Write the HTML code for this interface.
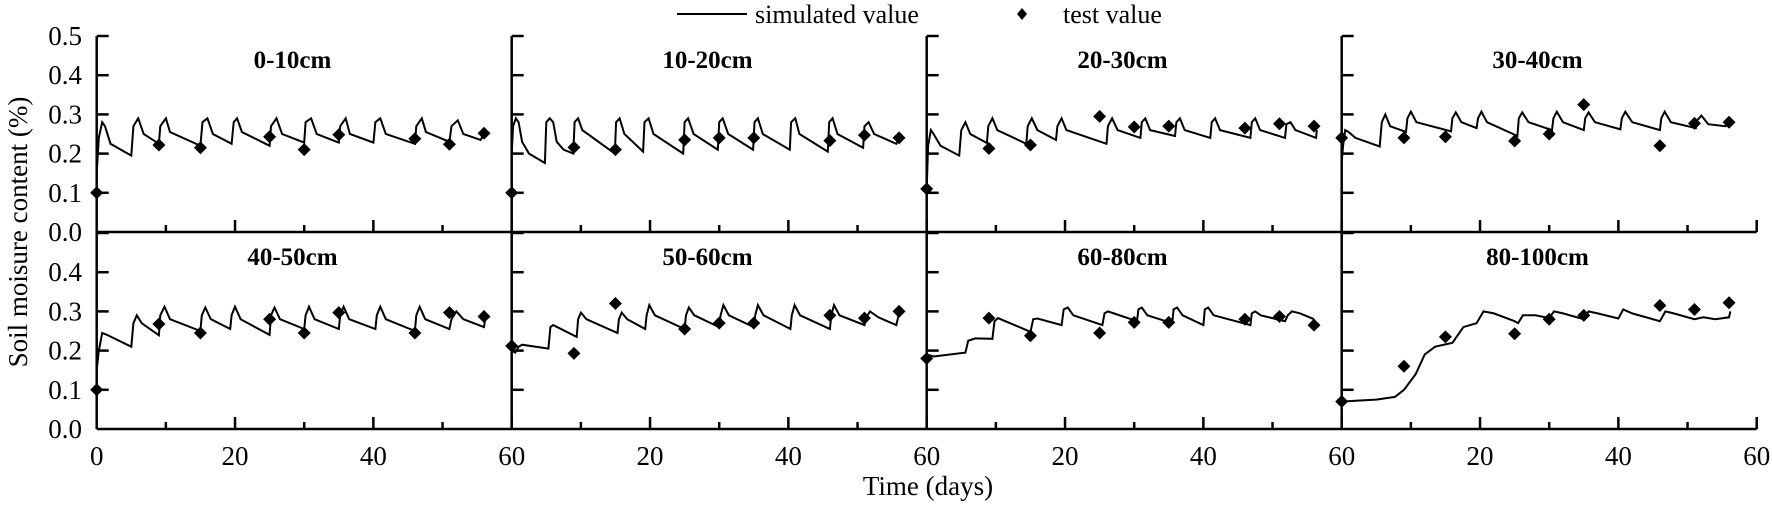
<!DOCTYPE html>
<html><head><meta charset="utf-8"><style>
html,body{margin:0;padding:0;background:#fff;}
svg{display:block;}
svg text{font-family:"Liberation Serif","Times New Roman",serif;}
</style></head><body>
<svg id="chart" width="1772" height="506" viewBox="0 0 1772 506" xmlns="http://www.w3.org/2000/svg" font-family="Liberation Serif, serif">
<g>
<line x1="677" y1="14" x2="747" y2="14" stroke="#000" stroke-width="2"/>
<text x="755" y="23" font-size="26" font-family="Liberation Serif, serif">simulated value</text>
<path d="M1022 8 L1027 14 L1022 20 L1017 14Z" fill="#000"/>
<text x="1063" y="23" font-size="26" font-family="Liberation Serif, serif">test value</text>
</g>
<text transform="translate(27,232) rotate(-90)" text-anchor="middle" font-size="27" font-family="Liberation Serif, serif">Soil moisure content (%)</text>
<text x="928" y="495" text-anchor="middle" font-size="27" font-family="Liberation Serif, serif">Time (days)</text>
</svg>
<script>
const panelLabels = ["0-10cm","10-20cm","20-30cm","30-40cm","40-50cm","50-60cm","60-80cm","80-100cm"];
const testDays = [0,9,15,25,30,35,46,51,56];
const test1 = [0.10,0.222,0.215,0.243,0.21,0.248,0.238,0.224,0.252];
const test2 = [0.10,0.216,0.21,0.235,0.24,0.24,0.233,0.247,0.24];
const test3 = [0.11,0.213,0.222,0.295,0.268,0.27,0.265,0.276,0.27];
const test4 = [0.24,0.24,0.243,0.232,0.25,0.325,0.22,0.277,0.28];
const test5 = [0.10,0.268,0.245,0.28,0.245,0.297,0.245,0.297,0.287];
const test6 = [0.212,0.193,0.32,0.255,0.27,0.27,0.29,0.283,0.30];
const test7 = [0.18,0.283,0.238,0.245,0.272,0.272,0.28,0.287,0.265];
const test8 = [0.07,0.16,0.235,0.243,0.28,0.29,0.315,0.305,0.322];
// simulated series: flat [day, value, day, value, ...]
const sim1 = [0,0.15,0.3,0.24,0.8,0.28,1.2,0.27,2,0.225,5,0.195,5.3,0.27,6,0.29,6.8,0.25,9,0.225,9.2,0.27,10,0.29,10.6,0.255,15,0.22,15.3,0.28,16,0.29,16.8,0.25,19.5,0.225,19.8,0.28,20.3,0.29,21,0.255,25,0.22,25.2,0.27,26,0.29,26.8,0.25,30,0.228,30.2,0.28,31,0.29,31.8,0.25,35,0.228,35.2,0.27,36,0.29,36.6,0.25,40,0.228,40.3,0.28,41,0.29,41.8,0.25,46,0.225,46.2,0.27,47,0.29,47.6,0.255,51,0.23,51.3,0.27,52.2,0.285,53,0.25,55.5,0.235,56,0.25];
const sim2 = [0,0.2,0.2,0.27,0.6,0.29,1,0.28,1.5,0.23,2.5,0.2,4.8,0.176,5,0.28,5.5,0.29,6,0.28,6.5,0.23,7.5,0.21,8.9,0.2,9.1,0.28,9.6,0.29,10.2,0.26,14.9,0.2,15.1,0.28,15.6,0.29,16.3,0.25,19,0.205,19.2,0.28,19.8,0.29,20.5,0.25,24.8,0.2,25,0.28,25.5,0.29,26.3,0.25,29.8,0.21,30,0.28,30.5,0.29,31.3,0.25,34.9,0.21,35.1,0.28,35.6,0.29,36.3,0.25,40.2,0.21,40.4,0.28,41,0.29,41.6,0.25,45.7,0.205,45.9,0.28,46.4,0.29,47.1,0.25,50.8,0.215,51,0.27,51.6,0.28,52.4,0.25,55.6,0.225,56,0.24];
const sim3 = [0,0.11,0.2,0.22,0.6,0.26,1,0.25,2,0.22,4.7,0.195,5,0.26,5.6,0.28,6.3,0.25,8.7,0.227,8.9,0.27,9.5,0.29,10.2,0.26,14.4,0.225,14.6,0.27,15.2,0.29,16,0.26,18.7,0.235,18.9,0.27,19.5,0.29,20.2,0.26,26,0.225,26.2,0.27,26.8,0.29,27.6,0.26,30.9,0.24,31.1,0.28,31.6,0.29,32.3,0.26,35.9,0.245,36.1,0.28,36.6,0.29,37.3,0.26,41,0.24,41.2,0.28,41.7,0.29,42.4,0.26,46.8,0.24,47,0.28,47.5,0.29,48.2,0.26,51.8,0.24,52,0.275,52.6,0.28,53.3,0.26,56.3,0.24,56.4,0.26];
const sim4 = [0,0.18,0.2,0.22,0.5,0.26,1,0.255,2,0.24,5.5,0.218,5.8,0.28,6.3,0.30,7,0.27,9.3,0.255,9.5,0.29,10,0.307,10.8,0.28,15.8,0.257,16,0.29,16.5,0.305,17.3,0.28,19.5,0.265,19.7,0.29,20.2,0.307,21,0.28,25.4,0.245,25.6,0.29,26.1,0.305,27,0.28,30.4,0.26,30.6,0.29,31.1,0.307,32,0.28,35,0.26,35.2,0.29,35.7,0.305,36.6,0.28,40.3,0.262,40.5,0.29,41,0.307,42,0.28,46,0.26,46.2,0.29,46.7,0.307,47.6,0.28,51.2,0.265,51.4,0.285,52,0.297,53,0.275,55.5,0.27,56,0.28];
const sim5 = [0,0.15,0.3,0.2,0.8,0.245,1.5,0.24,5,0.21,5.3,0.27,5.8,0.29,6.5,0.27,9,0.239,9.2,0.29,9.8,0.312,10.6,0.28,15,0.25,15.2,0.29,15.7,0.31,16.5,0.28,19.3,0.255,19.5,0.29,20,0.312,20.8,0.28,25,0.24,25.2,0.29,25.7,0.31,26.5,0.28,30,0.255,30.2,0.29,30.7,0.312,31.5,0.28,35,0.255,35.2,0.29,35.7,0.312,36.5,0.28,40.3,0.255,40.5,0.29,41,0.312,41.8,0.28,46,0.25,46.2,0.29,46.7,0.312,47.5,0.28,51,0.255,51.3,0.28,52,0.30,53,0.28,56,0.26,56.2,0.285];
const sim6 = [0,0.2,0.5,0.195,1,0.21,1.5,0.215,5.3,0.205,5.6,0.26,6,0.265,9.4,0.235,9.6,0.28,10,0.297,10.8,0.28,15.3,0.245,15.5,0.28,15.9,0.297,16.7,0.28,19.3,0.255,19.5,0.29,19.9,0.316,20.7,0.29,25,0.255,25.2,0.29,25.6,0.31,26.4,0.29,30,0.26,30.2,0.29,30.6,0.316,31.4,0.29,35,0.26,35.2,0.29,35.6,0.316,36.4,0.29,40.3,0.255,40.5,0.29,40.9,0.316,41.7,0.29,46,0.255,46.2,0.29,46.6,0.316,47.4,0.29,51,0.265,51.3,0.285,51.8,0.30,53,0.285,55.6,0.265,56,0.295];
const sim7 = [0,0.19,1,0.185,5.6,0.195,6,0.225,7,0.231,9.5,0.23,9.8,0.275,10.3,0.283,15,0.248,15.4,0.28,16,0.282,19.5,0.265,19.8,0.305,20.4,0.31,21.2,0.29,25.4,0.265,25.7,0.295,26.2,0.30,30.4,0.275,30.6,0.305,31.1,0.31,31.9,0.29,35.5,0.27,35.7,0.305,36.2,0.31,37,0.29,40,0.265,40.2,0.305,40.7,0.31,41.5,0.29,46.8,0.265,47,0.295,47.5,0.30,48.3,0.29,51.8,0.275,52.2,0.29,52.8,0.30,54,0.295,56,0.28];
const sim8 = [0,0.07,2,0.072,5,0.075,7.7,0.082,9,0.1,10.7,0.14,12,0.19,13.5,0.21,16,0.22,17.6,0.26,19.5,0.27,20.5,0.30,22,0.295,25,0.275,25.5,0.27,26.2,0.29,28,0.29,30,0.283,30.7,0.30,32,0.295,35,0.28,35.7,0.30,37,0.295,40,0.282,40.7,0.305,42,0.295,46,0.275,46.8,0.30,48,0.295,51,0.28,52.3,0.285,54,0.28,56,0.285,56.2,0.30];
const simAll = [sim1,sim2,sim3,sim4,sim5,sim6,sim7,sim8];
const testAll = [test1,test2,test3,test4,test5,test6,test7,test8];
const xTickLabels = ["0","20","40","60","20","40","60","20","40","60","20","40","60"];
const yTickLabelsTop = ["0.0","0.1","0.2","0.3","0.4","0.5"];
const yTickLabelsBottom = ["0.0","0.1","0.2","0.3","0.4"];

const NS = "http://www.w3.org/2000/svg";
const svg = document.getElementById("chart");
const X0 = 96.7, PW = 415, DAYS = 60;
const ROW_BASE = [232, 429], PH = 196;
const FONT = "Liberation Serif, serif";
function xScale(p, d){ return X0 + (p % 4) * PW + d / DAYS * PW; }
function yScale(p, v){ return ROW_BASE[Math.floor(p / 4)] - v / 0.5 * PH; }
function mk(tag, attrs){ const e = document.createElementNS(NS, tag); for (const k in attrs) e.setAttribute(k, attrs[k]); svg.appendChild(e); return e; }

let ax = mk("line", {x1:X0, y1:ROW_BASE[0], x2:X0+4*PW, y2:ROW_BASE[0], stroke:"#000", "stroke-width":2.5});


ax = mk("line", {x1:X0, y1:ROW_BASE[1], x2:X0+4*PW, y2:ROW_BASE[1], stroke:"#000", "stroke-width":2.5});


for (let c = 0; c < 4; c++) {
  const x = X0 + c * PW;
  const yl = mk("line", {x1:x, y1:ROW_BASE[0]-PH, x2:x, y2:ROW_BASE[1], stroke:"#000", "stroke-width":2.5});
  
  
  for (let r = 0; r < 2; r++) {
    for (let i = 1; i <= 5; i++) {
      const y = ROW_BASE[r] - i * PH / 5;
      const t = mk("line", {x1:x, y1:y, x2:x+12, y2:y, stroke:"#000", "stroke-width":2.5});
      
      
    }
    for (let d = 10; d <= 60; d += 10) {
      const xx = x + d / DAYS * PW;
      const len = (d % 20 === 0) ? 12 : 7;
      const t = mk("line", {x1:xx, y1:ROW_BASE[r], x2:xx, y2:ROW_BASE[r]-len, stroke:"#000", "stroke-width":2.5});
      
      
    }
  }
}
yTickLabelsTop.forEach((s, i) => {
  const t = mk("text", {x:82, y:ROW_BASE[0] - i*PH/5 + 9, "text-anchor":"end", "font-size":27, "font-family":FONT});
  t.textContent = s;
  
  
});
yTickLabelsBottom.forEach((s, i) => {
  const t = mk("text", {x:82, y:ROW_BASE[1] - i*PH/5 + 9, "text-anchor":"end", "font-size":27, "font-family":FONT});
  t.textContent = s;
  
  
});
xTickLabels.forEach((s, i) => {
  const t = mk("text", {x:X0 + i * PW / 3, y:465, "text-anchor":"middle", "font-size":27, "font-family":FONT});
  t.textContent = s;
  
  
});
for (let p = 0; p < 8; p++) {
  const lbl = mk("text", {x:xScale(p, 28.3), y:ROW_BASE[Math.floor(p/4)] - PH + 32, "text-anchor":"middle", "font-size":25, "font-weight":"bold", "font-family":FONT});
  lbl.textContent = panelLabels[p];
  
  
  const s = simAll[p];
  let d = "";
  for (let i = 0; i < s.length; i += 2) d += (i ? "L" : "M") + xScale(p, s[i]).toFixed(1) + " " + yScale(p, s[i+1]).toFixed(1);
  const path = mk("path", {d:d, fill:"none", stroke:"#000", "stroke-width":2});
  
  
  testAll[p].forEach((v, i) => {
    const cx = xScale(p, testDays[i]), cy = yScale(p, v), h = 6.5;
    const m = mk("path", {d:`M${cx} ${cy-h}L${cx+h} ${cy}L${cx} ${cy+h}L${cx-h} ${cy}Z`, fill:"#000"});
    
    
  });
}
</script>
</body></html>
